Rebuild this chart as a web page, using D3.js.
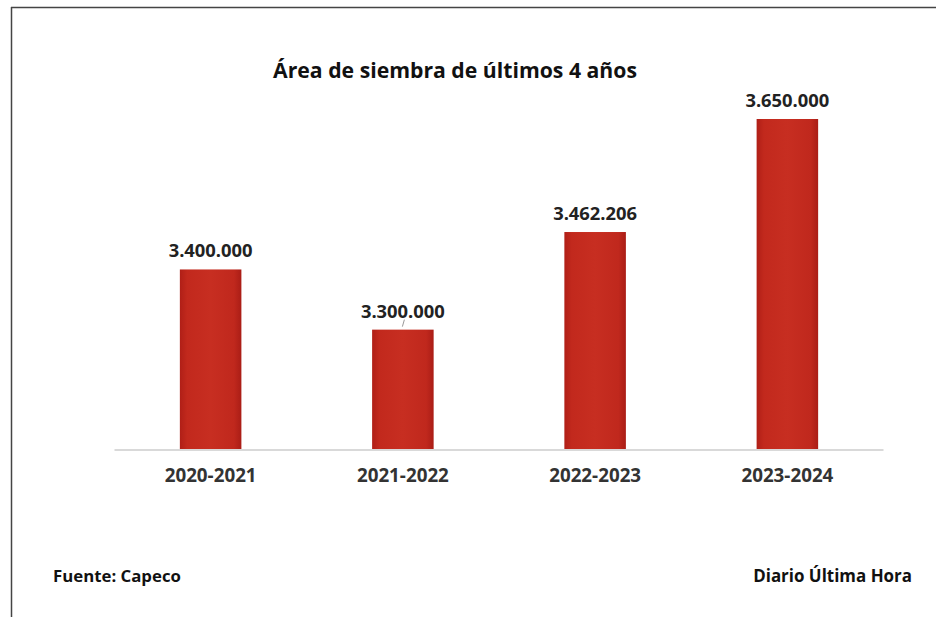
<!DOCTYPE html>
<html>
<head>
<meta charset="utf-8">
<script src="https://cdn.jsdelivr.net/npm/d3@7"></script>
<style>
  html, body { margin: 0; padding: 0; background: #fff; }
  svg { display: block; }
  text { font-family: "Open Sans", "Noto Sans", sans-serif; font-weight: 700; }
</style>
</head>
<body>
<svg id="chart" width="936" height="617"></svg>
<script>
const categories = ["2020-2021", "2021-2022", "2022-2023", "2023-2024"];
const values = [3400000, 3300000, 3462206, 3650000];
const valueLabels = ["3.400.000", "3.300.000", "3.462.206", "3.650.000"];
const titleText = "Área de siembra de últimos 4 años";
const sourceText = "Fuente: Capeco";
const creditText = "Diario Última Hora";

const svg = d3.select("#chart");
const W = 936, H = 617;

const defs = svg.append("defs");
const grad = defs.append("linearGradient").attr("id", "barGrad")
  .attr("x1", "0%").attr("x2", "100%").attr("y1", "0%").attr("y2", "0%");
grad.append("stop").attr("offset", "0%").attr("stop-color", "#b01f17");
grad.append("stop").attr("offset", "12%").attr("stop-color", "#c2291d");
grad.append("stop").attr("offset", "50%").attr("stop-color", "#c72e21");
grad.append("stop").attr("offset", "88%").attr("stop-color", "#c0281d");
grad.append("stop").attr("offset", "100%").attr("stop-color", "#aa1d16");

// frame
svg.append("line").attr("x1", 11.5).attr("x2", 11.5).attr("y1", 7).attr("y2", H)
  .attr("stroke", "#444").attr("stroke-width", 1.5);
svg.append("line").attr("x1", 11).attr("x2", W).attr("y1", 7.5).attr("y2", 7.5)
  .attr("stroke", "#444").attr("stroke-width", 1.5);

const x = d3.scaleBand().domain(categories).range([114.5, 883.5])
  .paddingInner(0.68).paddingOuter(0.34);
const y = d3.scaleLinear().domain([3100000, 3650000]).range([450, 119]);

function fit(sel, target) {
  sel.each(function() {
    const base = parseFloat(this.getAttribute("font-size"));
    const len = this.getComputedTextLength();
    if (len > 0) this.setAttribute("font-size", (base * target / len).toFixed(2));
  });
}

// bars
svg.append("g").selectAll("rect").data(values).join("rect")
  .attr("x", (d, i) => x(categories[i]))
  .attr("width", x.bandwidth())
  .attr("y", d => y(d))
  .attr("height", d => y.range()[0] - y(d))
  .attr("fill", "url(#barGrad)");

// baseline axis
const axis = svg.append("g").attr("transform", `translate(0,${y.range()[0]})`)
  .call(d3.axisBottom(x).tickSize(0).tickPadding(20));
axis.select(".domain").attr("stroke", "#d9d9d9").attr("stroke-width", 2)
  .attr("d", `M${x.range()[0]},0H${x.range()[1]}`);
axis.selectAll(".tick text")
  .attr("font-family", "'Open Sans', sans-serif").attr("font-weight", 700)
  .attr("font-size", 16).attr("fill", "#333").attr("dy", 0).attr("y", 32)
  .call(fit, 92);

// value labels
svg.append("g").selectAll("text").data(values).join("text")
  .attr("x", (d, i) => x(categories[i]) + x.bandwidth() / 2)
  .attr("y", d => y(d) - 12)
  .attr("text-anchor", "middle").attr("fill", "#222").attr("font-size", 16)
  .text((d, i) => valueLabels[i])
  .call(fit, 84);

// leader line for 2021-2022
svg.append("line")
  .attr("x1", x(categories[1]) + x.bandwidth() / 2 + 1.5)
  .attr("x2", x(categories[1]) + x.bandwidth() / 2 - 0.5)
  .attr("y1", y(values[1]) - 10).attr("y2", y(values[1]) - 3)
  .attr("stroke", "#999").attr("stroke-width", 1);

// title
svg.append("text").attr("x", 455).attr("y", 78).attr("text-anchor", "middle")
  .attr("fill", "#111").attr("font-size", 20).text(titleText).call(fit, 364);

// footer
svg.append("text").attr("x", 53).attr("y", 582).attr("fill", "#111")
  .attr("font-size", 14).text(sourceText).call(fit, 128);
svg.append("text").attr("x", 912).attr("y", 582).attr("text-anchor", "end")
  .attr("fill", "#111").attr("font-size", 14).text(creditText).call(fit, 159);
</script>
</body>
</html>
